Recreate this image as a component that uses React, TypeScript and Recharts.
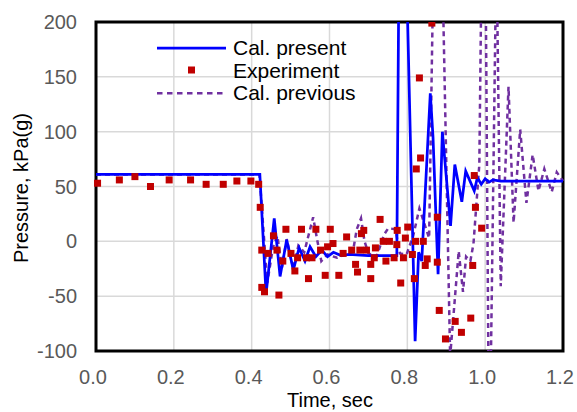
import React from 'react';
import {
  ComposedChart,
  Line,
  Scatter,
  XAxis,
  YAxis,
  CartesianGrid,
  ReferenceArea,
  Legend,
} from 'recharts';

// time (s) vs pressure (kPa g)
const presentData = [
  { t: 0, p: 61 }, { t: 0.421, p: 61 }, { t: 0.437, p: -48 }, { t: 0.458, p: 21 },
  { t: 0.473, p: -32 }, { t: 0.49, p: 1.5 }, { t: 0.507, p: -26 }, { t: 0.522, p: -6 },
  { t: 0.537, p: -18 }, { t: 0.55, p: -5 }, { t: 0.565, p: -14 }, { t: 0.58, p: -8 },
  { t: 0.595, p: -14 }, { t: 0.61, p: -10 }, { t: 0.63, p: -13 }, { t: 0.65, p: -12 },
  { t: 0.7, p: -13 }, { t: 0.773, p: -13 }, { t: 0.783, p: 470 }, { t: 0.82, p: -91 },
  { t: 0.829, p: -10 }, { t: 0.837, p: -18 }, { t: 0.859, p: 135 }, { t: 0.866, p: 95 },
  { t: 0.879, p: -30 }, { t: 0.89, p: 100 }, { t: 0.911, p: 14 }, { t: 0.922, p: 70 },
  { t: 0.94, p: 36 }, { t: 0.95, p: 64 }, { t: 0.972, p: 46 }, { t: 0.98, p: 58 },
  { t: 0.99, p: 52 }, { t: 1.0, p: 57 }, { t: 1.01, p: 54 }, { t: 1.02, p: 56 },
  { t: 1.04, p: 55 }, { t: 1.2, p: 55 },
];

const experimentData = [
  { t: 0.004, p: 53 }, { t: 0.06, p: 56 }, { t: 0.1, p: 59 }, { t: 0.14, p: 50 },
  { t: 0.188, p: 56 }, { t: 0.243, p: 56 }, { t: 0.283, p: 52 }, { t: 0.327, p: 52 },
  { t: 0.362, p: 55 }, { t: 0.398, p: 55 }, { t: 0.418, p: 52 }, { t: 0.422, p: 31 },
  { t: 0.426, p: -8 }, { t: 0.426, p: -42 }, { t: 0.433, p: -46 }, { t: 0.442, p: -11 },
  { t: 0.456, p: 5 }, { t: 0.465, p: -8 }, { t: 0.47, p: -49 }, { t: 0.48, p: -18 },
  { t: 0.488, p: 11 }, { t: 0.501, p: -11 }, { t: 0.511, p: -27 }, { t: 0.518, p: -15 },
  { t: 0.528, p: 11 }, { t: 0.541, p: -15 }, { t: 0.546, p: -34 }, { t: 0.555, p: -15 },
  { t: 0.565, p: 11 }, { t: 0.577, p: -8 }, { t: 0.589, p: -31 }, { t: 0.595, p: -5 },
  { t: 0.602, p: 11 }, { t: 0.609, p: -2 }, { t: 0.624, p: -31 }, { t: 0.635, p: -11 },
  { t: 0.644, p: 4 }, { t: 0.657, p: -8 }, { t: 0.667, p: -21 }, { t: 0.672, p: -28 },
  { t: 0.678, p: -8 }, { t: 0.682, p: 7 }, { t: 0.688, p: 10 }, { t: 0.695, p: -8 },
  { t: 0.706, p: -21 }, { t: 0.706, p: -34 }, { t: 0.715, p: -15 }, { t: 0.718, p: -6 },
  { t: 0.73, p: 20 }, { t: 0.738, p: 0 }, { t: 0.745, p: -18 }, { t: 0.754, p: 0 },
  { t: 0.766, p: -15 }, { t: 0.773, p: -3 }, { t: 0.774, p: 10 }, { t: 0.783, p: -38 },
  { t: 0.79, p: -15 }, { t: 0.795, p: 3 }, { t: 0.801, p: 13 }, { t: 0.813, p: -12 },
  { t: 0.818, p: -34 }, { t: 0.821, p: 0 }, { t: 0.823, p: 66 }, { t: 0.831, p: 149 },
  { t: 0.834, p: 76 }, { t: 0.841, p: 0 }, { t: 0.846, p: -22 }, { t: 0.851, p: -16 },
  { t: 0.863, p: 199 }, { t: 0.877, p: 22 }, { t: 0.877, p: -19 }, { t: 0.882, p: -63 },
  { t: 0.898, p: -89 }, { t: 0.923, p: -73 }, { t: 0.939, p: -83 }, { t: 0.963, p: -70 },
  { t: 0.968, p: -22 }, { t: 0.972, p: 60 }, { t: 0.975, p: 31 }, { t: 0.991, p: 12 },
];

const previousData = [
  { t: 0, p: 61 }, { t: 0.42, p: 61 }, { t: 0.44, p: -38 }, { t: 0.455, p: -5 },
  { t: 0.466, p: 5 }, { t: 0.478, p: -24 }, { t: 0.49, p: 2 }, { t: 0.507, p: -25 },
  { t: 0.52, p: -4 }, { t: 0.535, p: -10 }, { t: 0.558, p: 22 }, { t: 0.568, p: 2 },
  { t: 0.579, p: -18 }, { t: 0.595, p: -12 }, { t: 0.619, p: -15 }, { t: 0.64, p: -12 },
  { t: 0.66, p: -10 }, { t: 0.67, p: 11 }, { t: 0.681, p: 21 }, { t: 0.69, p: 0 },
  { t: 0.7, p: -11 }, { t: 0.721, p: -14 }, { t: 0.74, p: 6 }, { t: 0.751, p: 12 },
  { t: 0.769, p: 11 }, { t: 0.781, p: -11 }, { t: 0.798, p: -12 }, { t: 0.815, p: 5 },
  { t: 0.831, p: 30 }, { t: 0.856, p: 3 }, { t: 0.877, p: 480 }, { t: 0.91, p: -105 },
  { t: 0.932, p: -9 }, { t: 0.943, p: -46 }, { t: 0.951, p: -14 }, { t: 0.962, p: -18 },
  { t: 0.97, p: -2 }, { t: 0.985, p: 70 }, { t: 0.997, p: 450 }, { t: 1.0105, p: -220 },
  { t: 1.029, p: 270 }, { t: 1.04, p: -41 }, { t: 1.06, p: 141 }, { t: 1.073, p: 17 },
  { t: 1.09, p: 102 }, { t: 1.106, p: 35 }, { t: 1.122, p: 79 }, { t: 1.137, p: 46 },
  { t: 1.152, p: 66 }, { t: 1.171, p: 45 }, { t: 1.184, p: 63 }, { t: 1.2, p: 55 },
];

const xTicks = [0, 0.2, 0.4, 0.6, 0.8, 1.0, 1.2];
const yTicks = [-100, -50, 0, 50, 100, 150, 200];

const FONT = '"Liberation Sans", Arial, sans-serif';
const BLUE = '#0000ff';
const RED = '#c00000';
const PURPLE = '#7030a0';

const squareShape = (props: any) => (
  <rect x={props.cx - 3.5} y={props.cy - 3.5} width={7} height={7} fill={RED} />
);

const renderLegend = () => (
  <svg width={230} height={80} style={{ fontFamily: FONT, overflow: 'visible' }}>
    <line x1={7} x2={76} y1={18} y2={18} stroke={BLUE} strokeWidth={2.75} />
    <text x={83} y={25} fontSize={21} fill="#000">Cal. present</text>
    <rect x={38} y={36.5} width={7} height={7} fill={RED} />
    <text x={83} y={47.7} fontSize={21} fill="#000">Experiment</text>
    <line x1={7} x2={76} y1={63.3} y2={63.3} stroke={PURPLE} strokeWidth={2.5} strokeDasharray="5.5 4.5" />
    <text x={83} y={70} fontSize={21} fill="#000">Cal. previous</text>
  </svg>
);

export default function App() {
  return (
    <div style={{ position: 'absolute', left: 0, top: 0, fontFamily: FONT }}>
      <ComposedChart width={577} height={412} margin={{ top: 22, right: 14, bottom: 0, left: 0 }}>
        <CartesianGrid stroke="#d9d9d9" strokeWidth={1.5} />
        <XAxis
          dataKey="t"
          type="number"
          domain={[0, 1.2]}
          ticks={xTicks}
          tickFormatter={(v: number) => v.toFixed(1)}
          height={61}
          axisLine={false}
          tickLine={false}
          tickSize={6}
          tickMargin={13}
          tick={{ fill: '#595959', fontSize: 20, fontFamily: FONT, dx: -3 }}
          label={{
            content: () => (
              <text x={330} y={407} textAnchor="middle" fontSize={20} fontFamily={FONT} fill="#000">
                Time, sec
              </text>
            ),
          }}
        />
        <YAxis
          type="number"
          domain={[-100, 200]}
          ticks={yTicks}
          allowDataOverflow
          width={96}
          axisLine={false}
          tickLine={false}
          tickSize={6}
          tickMargin={13}
          tick={{ fill: '#595959', fontSize: 20, fontFamily: FONT }}
          label={{
            content: () => (
              <text
                x={0}
                y={0}
                transform="translate(28 188) rotate(-90)"
                textAnchor="middle"
                fontSize={20}
                fontFamily={FONT}
                fill="#000"
              >
                Pressure, kPa(g)
              </text>
            ),
          }}
        />
        <Line
          data={previousData}
          dataKey="p"
          name="Cal. previous"
          type="linear"
          stroke={PURPLE}
          strokeWidth={2.5}
          strokeDasharray="5 4"
          dot={false}
          activeDot={false}
          isAnimationActive={false}
        />
        <Line
          data={presentData}
          dataKey="p"
          name="Cal. present"
          type="linear"
          stroke={BLUE}
          strokeWidth={2.75}
          dot={false}
          activeDot={false}
          isAnimationActive={false}
        />
        <Scatter
          data={experimentData}
          dataKey="p"
          name="Experiment"
          fill={RED}
          shape={squareShape}
          isAnimationActive={false}
        />
        <ReferenceArea x1={0} x2={1.2} y1={-100} y2={200} fill="none" stroke="#000" strokeWidth={3} />
        <Legend
          layout="vertical"
          align="center"
          verticalAlign="middle"
          content={renderLegend}
          wrapperStyle={{ left: 150, top: 30, width: 230, height: 80 }}
        />
      </ComposedChart>
    </div>
  );
}
